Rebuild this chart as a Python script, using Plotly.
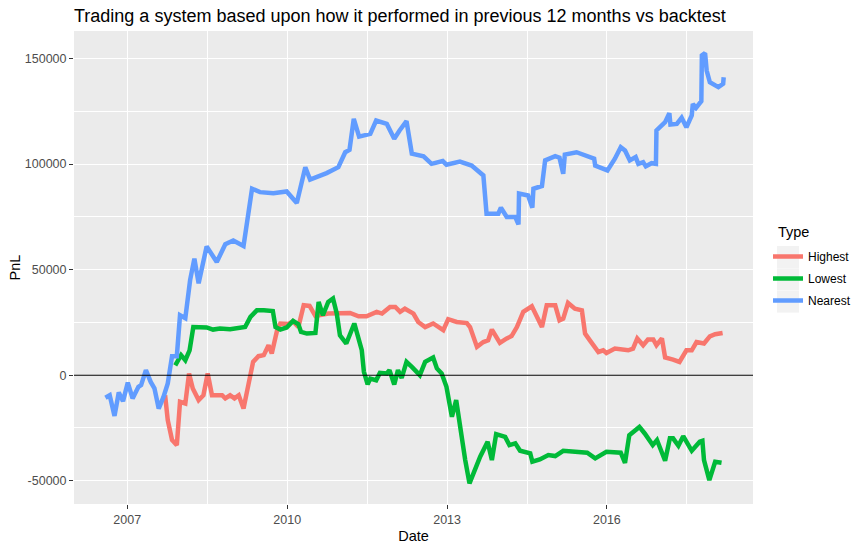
import pandas as pd
import plotly.graph_objects as go

# values; x in decimal years
nearest_x = [2006.59, 2006.67, 2006.76, 2006.84, 2006.92, 2007.01, 2007.10, 2007.21, 2007.26, 2007.35,
             2007.44, 2007.51, 2007.59, 2007.68, 2007.76, 2007.84, 2007.93, 2007.99, 2008.09, 2008.18,
             2008.26, 2008.34, 2008.49, 2008.68, 2008.84, 2008.99, 2009.18, 2009.34, 2009.49, 2009.74,
             2009.99, 2010.18, 2010.34, 2010.43, 2010.74, 2010.96, 2011.09, 2011.17, 2011.25, 2011.35,
             2011.56, 2011.67, 2011.87, 2012.01, 2012.11, 2012.24, 2012.34, 2012.56, 2012.71, 2012.92,
             2012.99, 2013.24, 2013.46, 2013.68, 2013.74, 2013.96, 2014.01, 2014.12, 2014.28, 2014.34,
             2014.35, 2014.52, 2014.60, 2014.62, 2014.78, 2014.84, 2015.03, 2015.11, 2015.18, 2015.21,
             2015.43, 2015.62, 2015.76, 2015.78, 2016.01, 2016.15, 2016.26, 2016.34, 2016.43, 2016.54,
             2016.59, 2016.68, 2016.73, 2016.84, 2016.92, 2016.93, 2017.09, 2017.17, 2017.19, 2017.31,
             2017.40, 2017.49, 2017.59, 2017.61, 2017.67, 2017.77, 2017.78, 2017.84, 2017.87, 2017.93,
             2018.09, 2018.18, 2018.19]
nearest_pnl = [-10700, -9500, -19300, -8200, -12300, -3500, -11000, -5500, -4700, 2400,
               -3200, -6200, -15800, -10300, -3900, 9000, 9000, 28400, 27000, 45000,
               55200, 43500, 61000, 53600, 62000, 63800, 61200, 88300, 86700, 86200,
               87000, 81500, 98500, 92600, 95700, 98500, 105600, 106700, 121400, 113000,
               114300, 120600, 119000, 112000, 115900, 120300, 104900, 103600, 100100, 101400,
               99700, 101200, 99300, 94600, 76500, 76500, 79300, 74900, 74900, 71400,
               86000, 85100, 79300, 88300, 89600, 101700, 103700, 103000, 95400, 104500,
               105600, 103600, 102500, 99300, 97000, 102500, 108000, 106400, 101700, 103300,
               100100, 100900, 98900, 100400, 100100, 115900, 119800, 124100, 118700, 119000,
               121900, 117400, 123000, 128500, 126600, 129800, 151400, 152500, 144300, 138700,
               136400, 138000, 141100]

highest_x = [2007.71, 2007.76, 2007.84, 2007.93, 2007.99, 2008.09, 2008.16, 2008.23, 2008.34, 2008.43,
             2008.51, 2008.59, 2008.78, 2008.84, 2008.93, 2009.01, 2009.09, 2009.18, 2009.27, 2009.36,
             2009.46, 2009.56, 2009.65, 2009.71, 2009.81, 2009.87, 2010.02, 2010.11, 2010.21, 2010.31,
             2010.42, 2010.53, 2010.77, 2011.18, 2011.34, 2011.49, 2011.68, 2011.78, 2011.93, 2012.03,
             2012.12, 2012.21, 2012.37, 2012.46, 2012.59, 2012.74, 2012.93, 2013.02, 2013.18, 2013.37,
             2013.43, 2013.56, 2013.68, 2013.77, 2013.84, 2013.99, 2014.12, 2014.21, 2014.31, 2014.43,
             2014.59, 2014.78, 2014.87, 2015.03, 2015.11, 2015.18, 2015.27, 2015.40, 2015.53, 2015.59,
             2015.68, 2015.84, 2015.93, 2015.99, 2016.15, 2016.40, 2016.49, 2016.57, 2016.68, 2016.77,
             2016.87, 2016.93, 2017.03, 2017.09, 2017.24, 2017.36, 2017.49, 2017.59, 2017.68, 2017.82,
             2017.93, 2018.03, 2018.17]
highest_pnl = [-9500, -21300, -30700, -33100, -12600, -13400, 800, -6300, -11800, -9500,
               800, -9500, -9500, -11000, -9500, -11000, -9500, -15800, -4700, 6300,
               9000, 9500, 14200, 10300, 21300, 24500, 24300, 25500, 22800, 33100,
               32800, 28000, 29200, 29500, 27900, 27900, 30000, 29200, 32300, 32300,
               30000, 31500, 29200, 25200, 22800, 24500, 21300, 26500, 25200, 24700,
               22800, 13400, 15700, 16500, 21600, 15300, 17400, 18500, 22800, 30000,
               32600, 22800, 33100, 33100, 26000, 26800, 34200, 31500, 30700, 19700,
               16500, 11000, 11800, 10500, 12600, 11800, 12600, 17400, 14200, 16900,
               16900, 14200, 17400, 8400, 7400, 6300, 11800, 11800, 15700, 15000,
               18400, 19400, 20000]

lowest_x = [2007.90, 2007.94, 2008.01, 2008.09, 2008.17, 2008.24, 2008.37, 2008.49, 2008.61, 2008.74,
            2008.93, 2009.06, 2009.21, 2009.31, 2009.43, 2009.56, 2009.73, 2009.78, 2009.87, 2009.99,
            2010.11, 2010.21, 2010.26, 2010.37, 2010.53, 2010.59, 2010.67, 2010.77, 2010.86, 2010.93,
            2010.99, 2011.11, 2011.26, 2011.40, 2011.44, 2011.51, 2011.56, 2011.67, 2011.74, 2011.87,
            2011.92, 2012.01, 2012.08, 2012.15, 2012.24, 2012.34, 2012.49, 2012.59, 2012.74, 2012.81,
            2012.90, 2012.99, 2013.09, 2013.17, 2013.24, 2013.34, 2013.42, 2013.49, 2013.62, 2013.76,
            2013.84, 2013.92, 2014.09, 2014.17, 2014.28, 2014.37, 2014.56, 2014.60, 2014.74, 2014.90,
            2015.03, 2015.18, 2015.49, 2015.63, 2015.78, 2015.99, 2016.26, 2016.34, 2016.42, 2016.53,
            2016.61, 2016.71, 2016.86, 2016.94, 2017.09, 2017.18, 2017.24, 2017.34, 2017.43, 2017.59,
            2017.74, 2017.79, 2017.82, 2017.92, 2018.03, 2018.15]
lowest_pnl = [4700, 6300, 9500, 7100, 11800, 22800, 22800, 22600, 21600, 22100,
              21800, 22100, 22800, 27600, 30700, 30700, 30400, 22800, 21600, 22600,
              25700, 24100, 20500, 19700, 20000, 34700, 28400, 34700, 36300, 29200,
              18900, 15000, 24500, 11800, 1600, -4300, -1600, -2400, 1100, 800,
              2400, -4400, 2400, -1300, 6300, 3900, 0, 6300, 8400, 3200,
              800, -5500, -19700, -11800, -24500, -40200, -51200, -46500, -38600, -31500,
              -40200, -27900, -29200, -33100, -32300, -35800, -37000, -41000, -39900, -37800,
              -38300, -35800, -36700, -36700, -39400, -36300, -36700, -41500, -28400, -26000,
              -24500, -27600, -33100, -30700, -40500, -29900, -29900, -33400, -28900, -35800,
              -31500, -31100, -40200, -49700, -41000, -41500]

series = [
    ("Highest", highest_x, highest_pnl, "#F8766D"),
    ("Lowest", lowest_x, lowest_pnl, "#00BA38"),
    ("Nearest", nearest_x, nearest_pnl, "#619CFF"),
]

FONT = "Liberation Sans, Arial, sans-serif"
W, H = 865, 551
L, R, T, B = 74, 112, 31, 47


def to_date(yr):
    year = int(yr)
    return pd.Timestamp(year=year, month=1, day=1) + pd.Timedelta(days=(yr - year) * 365.25)


def px_x(p):
    return (p - L) / (W - L - R)


def px_y(p):
    return (H - B - p) / (H - T - B)


fig = go.Figure()
for name, xs, ys, color in series:
    fig.add_trace(go.Scatter(
        x=[to_date(v) for v in xs], y=ys, name=name, mode="lines",
        legendgroup=name,
        line=dict(color=color, width=4.5),
    ))

# black reference line at zero, drawn over the lines like geom_hline
fig.add_shape(type="line", xref="paper", x0=0, x1=1, yref="y", y0=0, y1=0,
              line=dict(color="black", width=1.1), layer="above")

# light grey key boxes like ggplot's legend keys
for i in range(len(series)):
    top = 246 + 22.3 * i
    fig.add_shape(type="rect", xref="paper", yref="paper",
                  x0=px_x(777), x1=px_x(799), y0=px_y(top + 22), y1=px_y(top),
                  fillcolor="#F2F2F2", line=dict(width=0), layer="below")

fig.add_annotation(text="Type", xref="paper", yref="paper", x=px_x(776), y=px_y(232),
                   xanchor="left", yanchor="middle", showarrow=False,
                   font=dict(size=14.5, color="black"))

fig.update_layout(
    width=W, height=H,
    margin=dict(l=L, r=R, t=T, b=B, autoexpand=False),
    paper_bgcolor="white", plot_bgcolor="#EBEBEB",
    font=dict(family=FONT, color="black"),
    title=dict(
        text="Trading a system based upon how it performed in previous 12 months vs backtest",
        font=dict(size=18, color="black"),
        xref="paper", x=0, xanchor="left",
        yref="container", y=1 - 15.5 / H, yanchor="middle",
    ),
    legend=dict(
        font=dict(size=12),
        x=px_x(768), xanchor="left", y=px_y(242), yanchor="top",
        bgcolor="rgba(0,0,0,0)", tracegroupgap=3,
        itemwidth=30,
    ),
    showlegend=True,
)

fig.update_xaxes(
    type="date", automargin=True,
    range=[to_date(2006.0), to_date(2018.74)],
    tickvals=[to_date(v) for v in [2007, 2010, 2013, 2016]],
    ticktext=["2007", "2010", "2013", "2016"],
    showgrid=True, gridcolor="white", gridwidth=1.1,
    minor=dict(tickvals=[to_date(v) for v in [2008.5, 2011.5, 2014.5, 2017.5]],
               showgrid=True, gridcolor="white", gridwidth=0.55),
    ticks="outside", ticklen=4, tickwidth=1.1, tickcolor="#333333",
    tickfont=dict(size=12.5, color="#4D4D4D"),
    title=dict(text="Date", font=dict(size=14.5), standoff=4),
    zeroline=False, showline=False,
)
fig.update_yaxes(
    automargin=True,
    range=[-61000, 163000],
    tickvals=[-50000, 0, 50000, 100000, 150000],
    ticktext=["-50000", "0", "50000", "100000", "150000"],
    showgrid=True, gridcolor="white", gridwidth=1.1,
    minor=dict(tickvals=[-25000, 25000, 75000, 125000],
               showgrid=True, gridcolor="white", gridwidth=0.55),
    ticks="outside", ticklen=4, tickwidth=1.1, tickcolor="#333333",
    tickfont=dict(size=12.5, color="#4D4D4D"),
    title=dict(text="PnL", font=dict(size=14.5), standoff=0),
    zeroline=False, showline=False,
)

fig.write_html("out.html", config={"displayModeBar": False},
               post_script="document.body.style.margin='0px';")
